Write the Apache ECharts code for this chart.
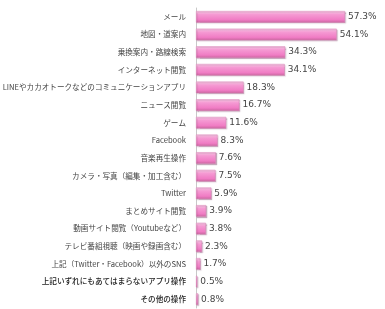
<!DOCTYPE html>
<html>
<head>
<meta charset="utf-8">
<script src="https://cdn.jsdelivr.net/npm/echarts@6/dist/echarts.min.js"></script>
<style>
  html, body { margin: 0; padding: 0; background: #fff; }
  #chart { width: 385px; height: 309px; }
</style>
</head>
<body>
<div id="chart"></div>
<script>
  // top to bottom as in the picture
  const categories = [
    'メール',
    '地図・道案内',
    '乗換案内・路線検索',
    'インターネット閲覧',
    'LINEやカカオトークなどのコミュニケーションアプリ',
    'ニュース閲覧',
    'ゲーム',
    'Facebook',
    '音楽再生操作',
    'カメラ・写真（編集・加工含む）',
    'Twitter',
    'まとめサイト閲覧',
    '動画サイト閲覧（Youtubeなど）',
    'テレビ番組視聴（映画や録画含む）',
    '上記（Twitter・Facebook）以外のSNS',
    '上記いずれにもあてはまらないアプリ操作',
    'その他の操作'
  ];
  const values = [57.3, 54.1, 34.3, 34.1, 18.3, 16.7, 11.6, 8.3, 7.6, 7.5, 5.9, 3.9, 3.8, 2.3, 1.7, 0.5, 0.8];

  const font = '"Noto Sans CJK JP", "Noto Sans", sans-serif';

  // the last two rows are printed a little heavier
  const categoryData = categories.map((name, i) => (
    i >= categories.length - 2 ? {value: name, textStyle: {fontWeight: 500, color: '#222'}} : name
  ));

  const chart = echarts.init(document.getElementById('chart'));
  const option = {
    animation: false,
    grid: {
      left: 196,
      right: 33,
      top: 8,
      bottom: 1,
      containLabel: false,
      outerBoundsMode: 'none'
    },
    xAxis: {
      type: 'value',
      min: 0,
      max: 60,
      show: false
    },
    yAxis: {
      type: 'category',
      inverse: true,
      data: categoryData,
      axisLine: { show: true, lineStyle: { color: '#c8c8c8', width: 1 } },
      axisTick: { show: false },
      axisLabel: {
        margin: 10,
        fontSize: 7.6,
        color: '#444',
        fontFamily: font
      }
    },
    series: [
      {
        type: 'bar',
        data: values,
        barWidth: '66%',
        itemStyle: {
          color: new echarts.graphic.LinearGradient(0, 0, 0, 1, [
            { offset: 0, color: '#fbd0ea' },
            { offset: 0.3, color: '#f59ad3' },
            { offset: 0.75, color: '#f07cc4' },
            { offset: 1, color: '#c9659f' }
          ]),
          borderColor: '#d682b4',
          borderWidth: 0.5,
          shadowColor: 'rgba(120,60,100,0.35)',
          shadowOffsetX: 1,
          shadowOffsetY: 1,
          shadowBlur: 1
        },
        label: {
          show: true,
          position: 'right',
          distance: 3,
          formatter: '{c}%',
          fontSize: 9,
          color: '#444',
          fontFamily: '"DejaVu Sans", sans-serif'
        }
      }
    ]
  };
  chart.setOption(option);
</script>
</body>
</html>
